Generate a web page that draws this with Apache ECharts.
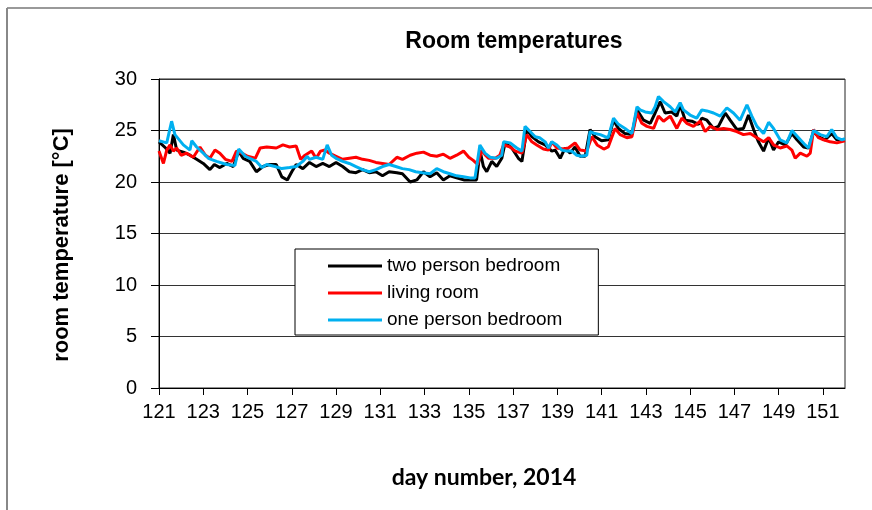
<!DOCTYPE html>
<html>
<head>
    <meta charset="utf-8" />
    <title>Room temperatures</title>
    <script src="https://cdn.jsdelivr.net/npm/echarts@6/dist/echarts.min.js"></script>
    <style>
        html, body { margin: 0; padding: 0; background: #fff; }
        #chart { width: 872px; height: 510px; }
    </style>
</head>
<body>
    <div id="chart"></div>
    <script>
        // tick labels of the day axis
        var dayTicks = [121, 123, 125, 127, 129, 131, 133, 135, 137, 139, 141, 143, 145, 147, 149, 151];

        // [day number, temperature °C]
        var twoPersonBedroom = [
            [121.0, 23.9], [121.3, 23.3], [121.5, 22.8], [121.65, 24.6], [121.8, 23.1], [122.1, 22.9], [122.4, 22.6], [122.7, 22.2],
            [123.0, 21.8], [123.3, 21.2], [123.5, 21.7], [123.75, 21.4], [124.06, 21.8], [124.36, 21.5], [124.6, 23.0], [124.8, 22.3],
            [125.1, 22.0], [125.4, 21.0], [125.7, 21.5], [126.0, 21.7], [126.3, 21.7], [126.55, 20.5], [126.8, 20.2], [127.0, 21.0],
            [127.2, 21.7], [127.5, 21.3], [127.8, 21.9], [128.1, 21.5], [128.4, 21.8], [128.7, 21.5], [129.0, 21.9], [129.3, 21.5],
            [129.6, 21.0], [129.9, 20.9], [130.2, 21.2], [130.5, 20.9], [130.8, 21.0], [131.1, 20.6], [131.4, 21.0], [131.75, 20.9],
            [132.0, 20.8], [132.35, 20.0], [132.65, 20.2], [132.95, 21.0], [133.25, 20.5], [133.55, 20.9], [133.85, 20.2], [134.15, 20.6],
            [134.45, 20.4], [134.8, 20.2], [135.1, 20.2], [135.35, 20.2], [135.51, 23.0], [135.66, 21.5], [135.81, 21.0], [136.04, 22.0],
            [136.26, 21.5], [136.49, 22.3], [136.64, 23.8], [136.94, 23.3], [137.24, 22.3], [137.4, 22.0], [137.62, 25.1], [137.85, 24.4],
            [138.15, 23.9], [138.45, 23.6], [138.75, 23.0], [138.9, 23.1], [139.13, 22.3], [139.35, 23.3], [139.58, 22.8], [139.8, 23.4],
            [140.03, 22.5], [140.26, 22.5], [140.48, 25.1], [140.7, 24.4], [141.0, 24.0], [141.3, 24.1], [141.54, 26.0], [141.76, 25.2],
            [142.06, 24.7], [142.37, 24.6], [142.6, 27.0], [142.9, 26.0], [143.2, 25.7], [143.42, 26.7], [143.65, 27.8], [143.87, 26.7],
            [144.17, 26.8], [144.4, 26.4], [144.55, 27.5], [144.78, 26.0], [145.08, 25.9], [145.38, 25.6], [145.53, 26.2], [145.76, 26.0],
            [146.06, 25.2], [146.28, 25.4], [146.59, 26.7], [146.81, 26.0], [147.11, 25.1], [147.41, 25.2], [147.64, 26.5], [147.87, 25.1],
            [148.09, 23.9], [148.32, 23.0], [148.55, 24.3], [148.77, 23.1], [149.0, 23.9], [149.3, 23.6], [149.6, 24.7], [149.83, 24.1],
            [150.13, 23.4], [150.35, 23.3], [150.58, 24.9], [150.8, 24.4], [151.1, 24.1], [151.4, 24.7], [151.63, 24.1], [152.0, 24.1]
        ];

        var livingRoom = [
            [121.0, 23.0], [121.2, 21.8], [121.35, 23.1], [121.5, 23.6], [121.65, 23.0], [121.8, 23.3], [122.0, 22.6], [122.25, 22.8],
            [122.55, 22.4], [122.85, 23.4], [123.1, 22.6], [123.3, 22.3], [123.53, 23.1], [123.75, 22.8], [124.0, 22.2], [124.3, 22.0],
            [124.5, 23.0], [124.74, 22.8], [125.0, 22.5], [125.35, 22.3], [125.57, 23.3], [125.87, 23.4], [126.3, 23.3], [126.6, 23.6],
            [126.9, 23.4], [127.2, 23.5], [127.4, 22.2], [127.6, 22.6], [127.9, 23.0], [128.1, 22.3], [128.3, 23.0], [128.5, 23.1],
            [128.7, 22.8], [129.0, 22.5], [129.3, 22.2], [129.6, 22.3], [129.9, 22.4], [130.2, 22.2], [130.5, 22.1], [130.8, 21.9],
            [131.1, 21.8], [131.4, 21.7], [131.75, 22.4], [132.0, 22.2], [132.35, 22.6], [132.65, 22.8], [132.95, 22.9], [133.25, 22.6],
            [133.55, 22.5], [133.85, 22.7], [134.15, 22.3], [134.45, 22.6], [134.76, 23.0], [135.0, 22.4], [135.2, 22.1], [135.4, 21.7],
            [135.58, 23.1], [135.75, 22.6], [135.9, 22.3], [136.2, 22.3], [136.4, 22.6], [136.57, 23.6], [136.87, 23.4], [137.1, 23.0],
            [137.4, 22.8], [137.62, 24.6], [137.85, 23.9], [138.07, 23.6], [138.37, 23.2], [138.6, 23.1], [138.75, 23.9], [138.98, 23.3],
            [139.28, 23.2], [139.5, 23.3], [139.8, 23.8], [140.03, 23.1], [140.33, 23.0], [140.56, 24.4], [140.8, 23.6], [141.1, 23.2],
            [141.3, 23.4], [141.61, 25.2], [141.84, 24.6], [142.14, 24.3], [142.37, 24.4], [142.6, 26.7], [142.82, 25.7], [143.05, 25.4],
            [143.35, 25.2], [143.57, 26.4], [143.8, 25.9], [144.1, 26.4], [144.4, 25.2], [144.63, 26.2], [144.85, 25.7], [145.15, 25.4],
            [145.46, 25.9], [145.68, 24.9], [145.91, 25.4], [146.21, 25.1], [146.51, 25.2], [146.81, 25.1], [147.11, 24.9], [147.41, 24.6],
            [147.72, 24.7], [148.02, 24.3], [148.32, 23.9], [148.55, 24.3], [148.77, 23.6], [149.07, 23.3], [149.37, 23.5], [149.6, 23.1],
            [149.75, 22.3], [149.98, 22.8], [150.28, 22.5], [150.43, 22.8], [150.58, 25.1], [150.8, 24.3], [151.03, 24.1], [151.33, 23.9],
            [151.63, 23.8], [152.0, 24.0]
        ];

        var onePersonBedroom = [
            [121.0, 24.0], [121.35, 23.8], [121.57, 25.9], [121.72, 24.6], [122.1, 23.6], [122.4, 23.1], [122.48, 24.0], [122.7, 23.4],
            [123.0, 22.8], [123.23, 22.3], [123.6, 22.0], [124.06, 21.7], [124.43, 21.6], [124.6, 23.2], [124.9, 22.5], [125.1, 22.3],
            [125.4, 22.0], [125.65, 21.4], [125.87, 21.7], [126.24, 21.5], [126.55, 21.3], [126.9, 21.4], [127.2, 21.5], [127.5, 22.0],
            [127.7, 22.5], [127.8, 22.2], [128.1, 22.4], [128.4, 22.2], [128.6, 23.6], [128.8, 22.6], [129.0, 22.3], [129.3, 22.0],
            [129.6, 21.8], [129.9, 21.5], [130.2, 21.2], [130.5, 21.0], [130.8, 21.2], [131.1, 21.5], [131.4, 21.7], [131.7, 21.5],
            [132.0, 21.3], [132.3, 21.2], [132.6, 21.0], [132.9, 20.9], [133.25, 20.8], [133.55, 21.3], [133.85, 21.0], [134.15, 20.8],
            [134.45, 20.6], [134.76, 20.5], [135.06, 20.4], [135.28, 20.4], [135.5, 23.6], [135.73, 22.8], [135.96, 22.4], [136.26, 22.3],
            [136.49, 22.6], [136.57, 23.9], [136.87, 23.8], [137.17, 23.3], [137.4, 23.0], [137.54, 25.4], [137.77, 24.9], [138.0, 24.4],
            [138.2, 24.3], [138.45, 23.9], [138.6, 23.3], [138.75, 23.9], [138.98, 23.6], [139.2, 23.1], [139.43, 23.0], [139.65, 23.0],
            [139.88, 22.6], [140.1, 22.5], [140.33, 22.6], [140.48, 24.9], [140.7, 24.7], [140.94, 24.6], [141.16, 24.4], [141.3, 24.3],
            [141.54, 26.2], [141.76, 25.6], [142.06, 25.2], [142.37, 24.7], [142.6, 27.3], [142.74, 27.0], [142.97, 26.8], [143.27, 26.7],
            [143.42, 27.3], [143.57, 28.3], [143.8, 27.8], [144.1, 27.3], [144.33, 26.8], [144.55, 27.7], [144.7, 27.0], [145.0, 26.5],
            [145.3, 26.2], [145.53, 27.0], [145.76, 26.9], [146.06, 26.7], [146.36, 26.4], [146.66, 27.2], [146.96, 26.7], [147.26, 26.0],
            [147.57, 27.5], [147.79, 26.4], [148.02, 25.4], [148.32, 24.7], [148.55, 25.8], [148.77, 25.2], [149.07, 24.1], [149.37, 23.8],
            [149.6, 25.0], [149.9, 24.3], [150.2, 23.6], [150.35, 23.3], [150.58, 25.0], [150.88, 24.6], [151.18, 24.4], [151.4, 25.1],
            [151.63, 24.3], [151.86, 24.1], [152.0, 24.2]
        ];

        var seriesNames = ['two person bedroom', 'living room', 'one person bedroom'];
        var seriesColors = ['#000000', '#ff0000', '#00b0f0'];
        var seriesData = [twoPersonBedroom, livingRoom, onePersonBedroom];

        var chart = echarts.init(document.getElementById('chart'), null, { renderer: 'canvas' });

        var option = {
            animation: false,
            backgroundColor: '#ffffff',
            textStyle: { fontFamily: 'Liberation Sans, Arial, sans-serif', color: '#000' },
            title: [{
                text: 'Room temperatures',
                left: 514,
                top: 30,
                padding: 0,
                textAlign: 'center',
                textStyle: { fontSize: 23, fontWeight: 'bold', color: '#000', fontFamily: 'Liberation Sans' }
            }, {
                text: 'day number, 2014',
                left: 484,
                top: 466,
                padding: 0,
                textAlign: 'center',
                textStyle: { fontSize: 23, fontWeight: 'bold', color: '#000', fontFamily: 'Lato' }
            }],
            legend: {
                orient: 'vertical',
                left: 295,
                top: 249,
                padding: [7, 36, 5, 33],
                icon: 'rect',
                itemWidth: 54,
                itemHeight: 3,
                itemGap: 7,
                backgroundColor: '#ffffff',
                borderColor: '#000000',
                borderWidth: 1,
                borderRadius: 0,
                textStyle: { fontSize: 19, lineHeight: 20, color: '#000', fontFamily: 'Liberation Sans' },
                data: seriesNames
            },
            grid: {
                left: 159,
                right: 27,
                top: 79,
                bottom: 122,
                show: true,
                borderColor: '#222',
                borderWidth: 1,
                backgroundColor: 'transparent'
            },
            xAxis: {
                type: 'value',
                min: 121,
                max: 152,
                axisLine: { show: true, onZero: false, lineStyle: { color: '#000', width: 1 } },
                axisTick: { show: true, length: 7, customValues: dayTicks, lineStyle: { color: '#000' } },
                axisLabel: { customValues: dayTicks, fontSize: 20, color: '#000', margin: 14 },
                splitLine: { show: false }
            },
            yAxis: {
                type: 'value',
                min: 0,
                max: 30,
                interval: 5,
                axisLine: { show: true, lineStyle: { color: '#000', width: 1 } },
                axisTick: { show: true, length: 8, lineStyle: { color: '#000' } },
                axisLabel: { fontSize: 20, color: '#000', margin: 22 },
                splitLine: { show: true, lineStyle: { color: '#333', width: 1 } }
            },
            graphic: [
                { type: 'line', shape: { x1: 7, y1: 8, x2: 872, y2: 8 }, style: { stroke: '#777', lineWidth: 1.5 } },
                { type: 'line', shape: { x1: 7, y1: 8, x2: 7, y2: 510 }, style: { stroke: '#888', lineWidth: 2 } },
                {
                    type: 'text',
                    x: 62,
                    y: 245,
                    rotation: Math.PI / 2,
                    style: {
                        text: 'room temperature [°C]',
                        font: 'bold 22px "Liberation Sans"',
                        fill: '#000',
                        align: 'center',
                        verticalAlign: 'middle'
                    }
                }
            ],
            series: seriesNames.map(function (name, i) {
                return {
                    name: name,
                    type: 'line',
                    data: seriesData[i],
                    showSymbol: false,
                    symbol: 'none',
                    color: seriesColors[i],
                    lineStyle: { width: 3, color: seriesColors[i] },
                    z: 2 + i
                };
            })
        };

        chart.setOption(option);
    </script>
</body>
</html>
